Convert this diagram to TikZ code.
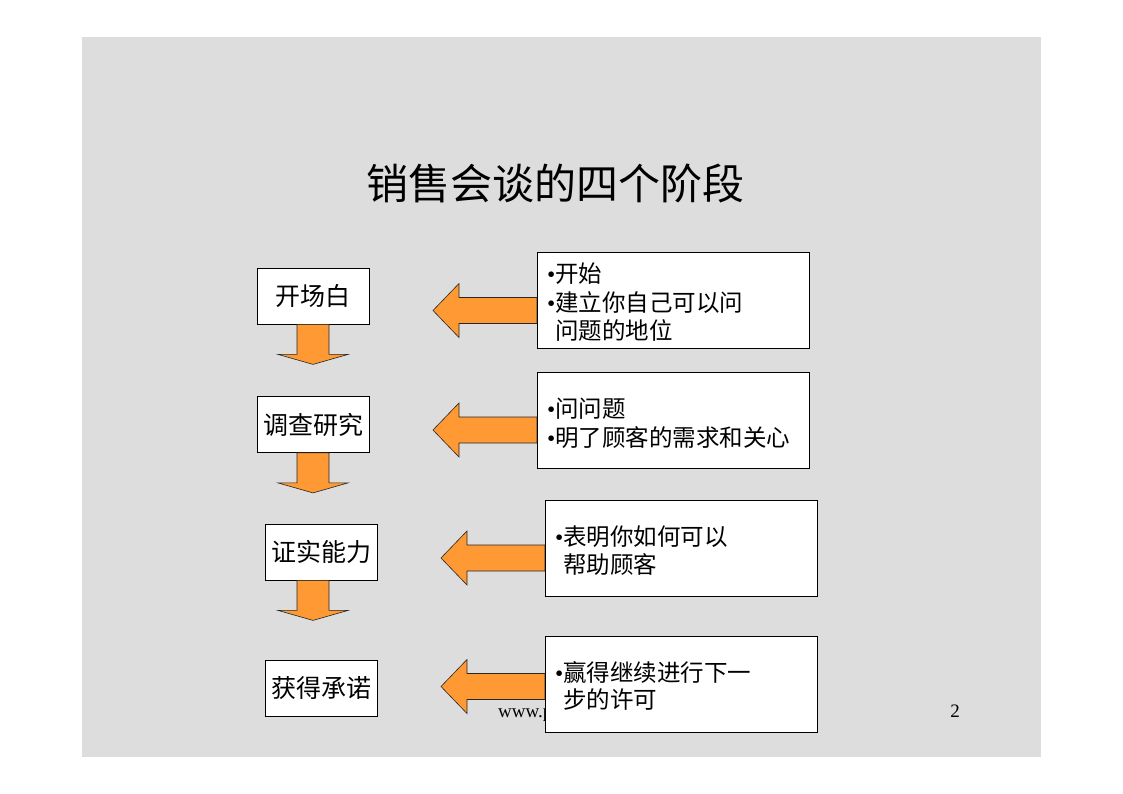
\documentclass[tikz,border=0pt]{standalone}
\usepackage{fontspec}
\setmainfont{Liberation Serif}
\newfontfamily\cjk{Noto Sans CJK SC}
\usetikzlibrary{calc}
\definecolor{bg}{HTML}{DDDDDD}
\definecolor{org}{HTML}{FF9933}
\newcommand\bul{{\rmfamily\textbullet}}
\newcommand\ind{\phantom{\bul}}
\begin{document}
\begin{tikzpicture}[x=1pt,y=-1pt,
  lbox/.style={draw=black, fill=white, line width=0.8pt, minimum width=112pt, minimum height=56pt, inner sep=0pt, font=\cjk\fontsize{25}{30}\selectfont},
  rbox/.style={draw=black, fill=white, line width=0.8pt, minimum width=272pt, minimum height=96pt, inner sep=0pt},
  rtxt/.style={anchor=base west, inner sep=0pt, font=\cjk\fontsize{23.5}{28}\selectfont},
  blk/.style={fill=org, draw=black!85, line width=0.6pt},
  downarrow/.pic={\draw[blk] (-16,0) -- (16,0) -- (16,30) -- (35,30) -- (0,40) -- (-35,30) -- (-16,30) -- cycle;},
  leftarrow/.pic={\draw[blk] (0,-13) -- (-78,-13) -- (-78,-27) -- (-104,0) -- (-78,27) -- (-78,13) -- (0,13) -- cycle;}
]
\useasboundingbox (0,0) rectangle (1123,794);
\fill[white] (0,0) rectangle (1123,794);
\fill[bg] (82,37) rectangle (1041,757);

\node[font=\cjk\fontsize{42}{50}\selectfont, inner sep=0pt] (title) at (555,183) {销售会谈的四个阶段};

% footer
\node[anchor=base west, inner sep=0pt, font=\fontsize{19}{22}\selectfont] (www) at (498,717) {www.p};
\node[anchor=base, inner sep=0pt, font=\fontsize{19}{22}\selectfont] (pg) at (955,717) {2};

% left boxes
\node[lbox] (b1) at (313,296) {开场白};
\node[lbox] (b2) at (313,424.5) {调查研究};
\node[lbox] (b3) at (321,552) {证实能力};
\node[lbox] (b4) at (321,688.5) {获得承诺};

% right boxes (positions)
\coordinate (r1w) at (537,300.5);
\coordinate (r2w) at (537,420);
\coordinate (r3w) at (545,548.5);
\coordinate (r4w) at (545,684.5);

% arrows
\pic at (b1.south) {downarrow};
\pic at (b2.south) {downarrow};
\pic at ($(b3.south)+(-8,0)$) {downarrow};
\pic at ($(r1w)+(0,10)$) {leftarrow};
\pic at ($(r2w)+(0,10)$) {leftarrow};
\pic at ($(r3w)+(0,9.5)$) {leftarrow};
\pic at ($(r4w)+(0,2)$) {leftarrow};

\node[rbox, anchor=west] (r1) at (r1w) {};
\node[rbox, anchor=west] (r2) at (r2w) {};
\node[rbox, anchor=west] (r3) at (r3w) {};
\node[rbox, anchor=west] (r4) at (r4w) {};

% right box texts
\node[rtxt] (t11) at (547,282) {\bul 开始};
\node[rtxt] (t12) at (547,311) {\bul 建立你自己可以问};
\node[rtxt] (t13) at (547,339) {\ind 问题的地位};
\node[rtxt] (t21) at (547,417) {\bul 问问题};
\node[rtxt] (t22) at (547,446) {\bul 明了顾客的需求和关心};
\node[rtxt] (t31) at (555,545) {\bul 表明你如何可以};
\node[rtxt] (t32) at (555,573) {\ind 帮助顾客};
\node[rtxt] (t41) at (555,681) {\bul 赢得继续进行下一};
\node[rtxt] (t42) at (555,708) {\ind 步的许可};
\end{tikzpicture}
\end{document}
